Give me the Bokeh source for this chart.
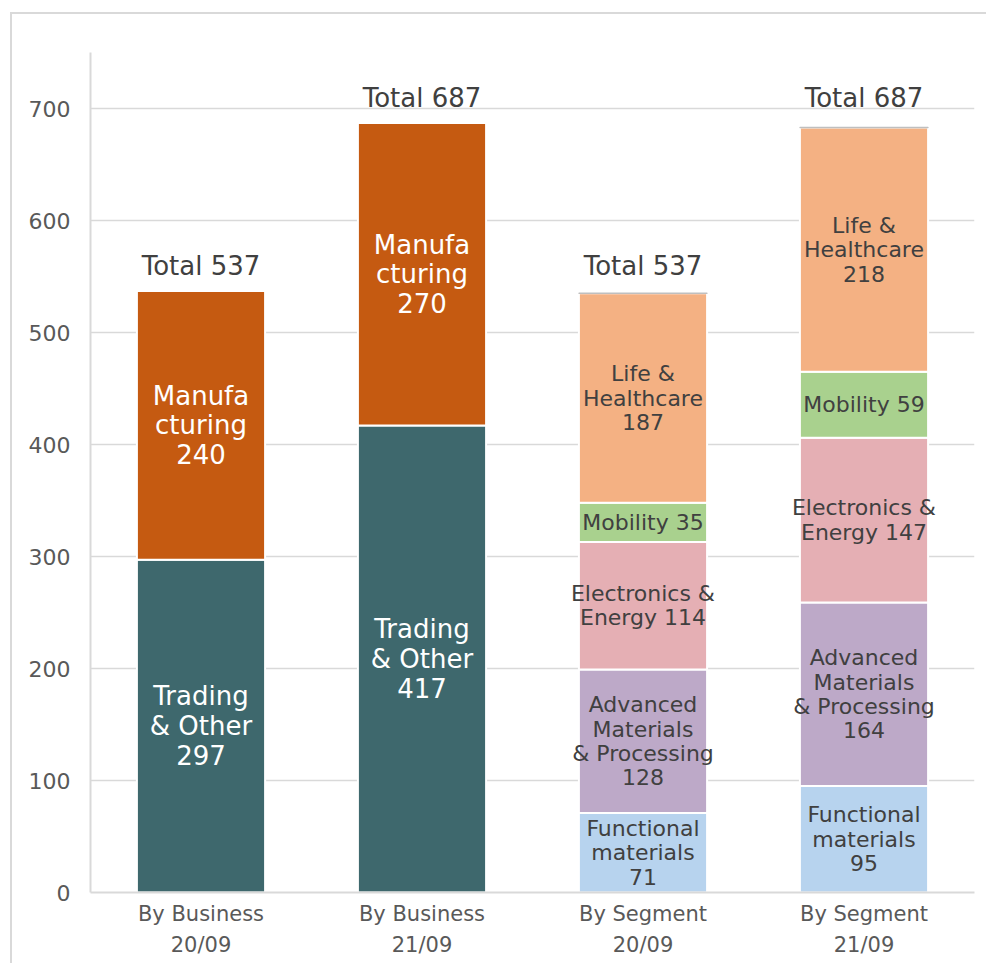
from bokeh.plotting import figure
from bokeh.models import FactorRange, Range1d, FixedTicker, ColumnDataSource
from bokeh.embed import file_html
from bokeh.resources import INLINE
from bokeh.core.properties import value
import numpy as np

categories = ["By Business\n20/09", "By Business\n21/09", "By Segment\n20/09", "By Segment\n21/09"]
business_cats = categories[:2]
segment_cats = categories[2:]

trading = [297, 417]
manufacturing = [240, 270]

functional = [71, 95]
advanced = [128, 164]
electronics = [114, 147]
mobility = [35, 59]
life = [187, 218]

totals = [537, 687, 537, 687]
y_ticks = [0, 100, 200, 300, 400, 500, 600, 700]

FONT = "DejaVu Sans"
DARK = "#404040"

p = figure(x_range=FactorRange(factors=categories, range_padding=0),
           y_range=Range1d(0, 750),
           width=976, height=951, output_backend="svg", toolbar_location=None,
           min_border_left=78, min_border_top=38, min_border_right=14, min_border_bottom=73)
p.styles = {"border-top": "2px solid #d9d9d9", "border-left": "2px solid #d9d9d9",
            "margin-left": "10px", "margin-top": "12px"}
p.outline_line_color = None
p.xgrid.grid_line_color = None
p.ygrid.grid_line_color = "#d9d9d9"
p.ygrid.grid_line_width = 1.5
p.ygrid.ticker = FixedTicker(ticks=y_ticks)
p.yaxis.ticker = FixedTicker(ticks=y_ticks)

for ax in (p.xaxis[0], p.yaxis[0]):
    ax.axis_line_color = "#d9d9d9"
    ax.axis_line_width = 2
    ax.major_tick_line_color = None
    ax.minor_tick_line_color = None
    ax.major_label_text_font = FONT
    ax.major_label_text_color = "#595959"
p.yaxis.major_label_text_font_size = "22px"
p.yaxis.major_label_standoff = 14
p.xaxis.major_label_text_font_size = "21px"
p.xaxis.major_label_text_line_height = 1.32
p.xaxis.major_label_standoff = 3

W = 0.58

def stack(cats, series, colors, names, text_color, font_size, line_h):
    bottom = np.zeros(len(cats))
    for vals, col, name in zip(series, colors, names):
        vals = np.array(vals, dtype=float)
        top = bottom + vals
        p.vbar(x=cats, bottom=bottom, top=top, width=W, fill_color=col,
               line_color="white", line_width=2)
        labels = [f"{name}{int(v)}" for v in vals]
        src = ColumnDataSource(dict(x=cats, y=(bottom + top) / 2, t=labels))
        p.text(x="x", y="y", text="t", source=src, text_align="center",
               text_baseline="middle", text_color=text_color,
               text_font=value(FONT), text_font_size=font_size,
               text_line_height=line_h)
        bottom = top
    return bottom

stack(business_cats, [trading, manufacturing], ["#3e686d", "#c55a11"],
      ["Trading\n& Other\n", "Manufa\ncturing\n"], "white", "26px", 0.99)

seg_top = stack(segment_cats, [functional, advanced, electronics, mobility, life],
                ["#b7d3ee", "#bda9c8", "#e5afb4", "#a9d18e", "#f4b183"],
                ["Functional\nmaterials\n", "Advanced\nMaterials\n& Processing\n",
                 "Electronics &\nEnergy ", "Mobility ", "Life &\nHealthcare\n"],
                DARK, "22px", 0.976)

# thin top line on segment stacks
p.rect(x=segment_cats, y=seg_top, width=W, height=0.01, fill_color=None,
       line_color="#bfbfbf", line_width=1.5)

tot_src = ColumnDataSource(dict(x=categories, y=totals, t=[f"Total {t}" for t in totals]))
p.text(x="x", y="y", text="t", source=tot_src, text_align="center",
       text_baseline="alphabetic", y_offset=-25, text_color=DARK,
       text_font=value(FONT), text_font_size="26px")

open("out.html", "w").write(file_html(p, INLINE))
